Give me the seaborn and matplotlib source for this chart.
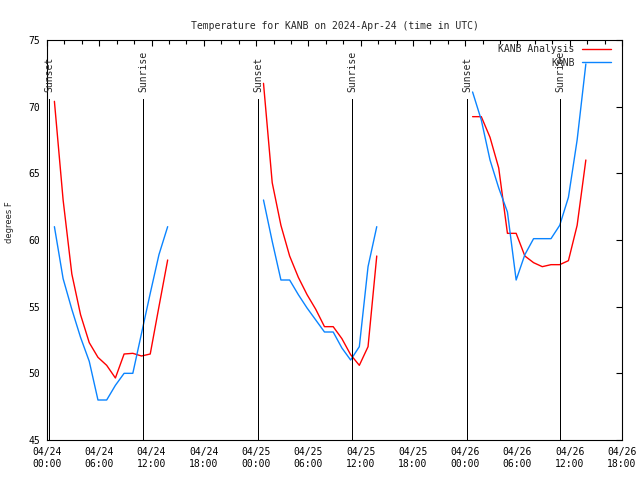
import pandas as pd
import seaborn as sns
import matplotlib.pyplot as plt
import matplotlib.dates as mdates
from matplotlib.lines import Line2D

# observation / analysis times (UTC), one block per night
times_day1 = ["2024-04-24 00:51", "2024-04-24 01:51", "2024-04-24 02:51", "2024-04-24 03:51",
              "2024-04-24 04:51", "2024-04-24 05:51", "2024-04-24 06:51", "2024-04-24 07:51",
              "2024-04-24 08:51", "2024-04-24 09:51", "2024-04-24 10:51", "2024-04-24 11:51",
              "2024-04-24 12:51", "2024-04-24 13:51"]
times_day2 = ["2024-04-25 00:51", "2024-04-25 01:51", "2024-04-25 02:51", "2024-04-25 03:51",
              "2024-04-25 04:51", "2024-04-25 05:51", "2024-04-25 06:51", "2024-04-25 07:51",
              "2024-04-25 08:51", "2024-04-25 09:51", "2024-04-25 10:51", "2024-04-25 11:51",
              "2024-04-25 12:51", "2024-04-25 13:51"]
times_day3 = ["2024-04-26 00:51", "2024-04-26 01:51", "2024-04-26 02:51", "2024-04-26 03:51",
              "2024-04-26 04:51", "2024-04-26 05:51", "2024-04-26 06:51", "2024-04-26 07:51",
              "2024-04-26 08:51", "2024-04-26 09:51", "2024-04-26 10:51", "2024-04-26 11:51",
              "2024-04-26 12:51", "2024-04-26 13:51"]

# KANB Analysis (red)
anl_day1 = [70.4, 63.0, 57.45, 54.4, 52.3, 51.2, 50.6, 49.65, 51.45, 51.5, 51.3, 51.45, 55.0, 58.5]
anl_day2 = [71.75, 64.3, 61.1, 58.8, 57.2, 55.9, 54.8, 53.5, 53.5, 52.6, 51.4, 50.6, 52.0, 58.8]
anl_day3 = [69.25, 69.25, 67.7, 65.4, 60.5, 60.5, 58.8, 58.3, 58.0, 58.15, 58.15, 58.45, 61.1, 66.0]

# KANB observations (blue)
obs_day1 = [61.0, 57.1, 54.8, 52.7, 50.9, 48.0, 48.0, 49.1, 50.0, 50.0, 53.0, 56.0, 58.9, 61.0]
obs_day2 = [63.0, 59.9, 57.0, 57.0, 55.9, 54.9, 54.0, 53.1, 53.1, 51.9, 51.0, 52.0, 58.0, 61.0]
obs_day3 = [71.1, 69.0, 66.0, 63.9, 62.1, 57.0, 58.9, 60.1, 60.1, 60.1, 61.1, 63.2, 67.5, 73.2]

sunset_times = ["2024-04-24 00:14", "2024-04-25 00:13", "2024-04-26 00:14"]
sunrise_times = ["2024-04-24 11:01", "2024-04-25 11:00", "2024-04-26 10:54"]

# build long table
rows = []
for seg, (t, a, o) in enumerate([(times_day1, anl_day1, obs_day1),
                                 (times_day2, anl_day2, obs_day2),
                                 (times_day3, anl_day3, obs_day3)]):
    for ti, ai, oi in zip(t, a, o):
        rows.append({'time': pd.Timestamp(ti), 'temp': ai, 'series': 'KANB Analysis', 'seg': seg})
        rows.append({'time': pd.Timestamp(ti), 'temp': oi, 'series': 'KANB', 'seg': seg})
df = pd.DataFrame(rows)

sns.set_theme(style='white')
plt.rcParams['font.family'] = ['DejaVu Sans Mono']
plt.rcParams['font.size'] = 7

colors = {'KANB Analysis': '#ff0000', 'KANB': '#0a84ff'}

fig = plt.figure(figsize=(6.4, 4.8), dpi=100)
ax = fig.add_axes([47 / 640, 40 / 480, 575 / 640, 400 / 480])

sns.lineplot(data=df, x='time', y='temp', hue='series', units='seg', estimator=None,
             palette=colors, linewidth=1, legend=False, ax=ax)

# sunset / sunrise markers
xt = ax.get_xaxis_transform()
for t in sunset_times:
    ax.axvline(pd.Timestamp(t), ymin=0, ymax=0.8525, color='black', lw=0.72, antialiased=False)
    ax.text(pd.Timestamp(t), 0.87, 'Sunset', rotation=90, ha='center', va='bottom',
            transform=xt, fontsize=7)
for t in sunrise_times:
    ax.axvline(pd.Timestamp(t), ymin=0, ymax=0.8525, color='black', lw=0.72, antialiased=False)
    ax.text(pd.Timestamp(t), 0.87, 'Sunrise', rotation=90, ha='center', va='bottom',
            transform=xt, fontsize=7)

ax.set_xlim(pd.Timestamp('2024-04-24 00:00'), pd.Timestamp('2024-04-26 18:00'))
ax.set_ylim(45, 75)
ax.set_yticks([45, 50, 55, 60, 65, 70, 75])
ax.xaxis.set_major_locator(mdates.HourLocator(byhour=[0, 6, 12, 18]))
ax.xaxis.set_minor_locator(mdates.HourLocator(byhour=range(0, 24, 2)))
ax.xaxis.set_major_formatter(mdates.DateFormatter('%m/%d\n%H:%M'))
ax.tick_params(which='both', direction='in', top=True, right=True, colors='black',
               labelsize=7, width=0.8)
ax.tick_params(which='major', length=4, pad=5)
ax.tick_params(which='minor', length=3)
for s in ax.spines.values():
    s.set_color('black')
    s.set_linewidth(0.8)

ax.set_xlabel('')
ax.set_ylabel('')
fig.text(10 / 640, 1 - 222 / 480, 'degrees F', rotation=90, ha='center', va='center',
         fontsize=6, family='DejaVu Sans')
ax.set_title('Temperature for KANB on 2024-Apr-24 (time in UTC)', fontsize=7, pad=8)

handles = [Line2D([], [], color=colors['KANB Analysis'], lw=1),
           Line2D([], [], color=colors['KANB'], lw=1)]
ax.legend(handles, ['KANB Analysis', 'KANB'], loc='upper right', bbox_to_anchor=(0.98, 0.989),
          frameon=False, markerfirst=False, borderpad=0, borderaxespad=0,
          handlelength=2.9, handletextpad=0.8, labelspacing=0.35, fontsize=7)

fig.savefig('out.png', dpi=100)
